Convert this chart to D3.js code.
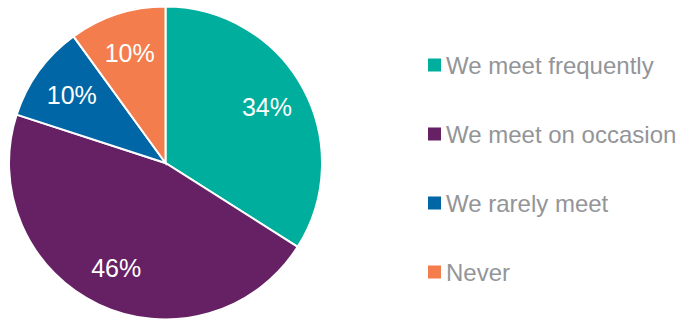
<!DOCTYPE html>
<html>
<head>
<meta charset="utf-8">
<script src="https://cdn.jsdelivr.net/npm/d3@7"></script>
<style>
  body { margin: 0; background: #fff; }
  text { font-family: "Liberation Sans", Arial, sans-serif; }
</style>
</head>
<body>
<div id="chart"></div>
<script>
var width = 679, height = 320;

var categories = ["We meet frequently", "We meet on occasion", "We rarely meet", "Never"];
var values = [34, 46, 10, 10];
var colors = ["#00ae9d", "#662165", "#0066a5", "#f47d4e"];

var svg = d3.select('#chart').append('svg')
	.attr('width', width)
	.attr('height', height);

var radius = 156.5;
var cx = 165.5, cy = 163;

var pie = d3.pie().sort(null).value(function(d) { return d; });
var arcs = pie(values);

var arc = d3.arc().innerRadius(0).outerRadius(radius);
var labelArc = d3.arc().innerRadius(radius * 0.74).outerRadius(radius * 0.74);

var g = svg.append('g').attr('transform', 'translate(' + cx + ',' + cy + ')');

g.selectAll('path')
	.data(arcs)
	.enter().append('path')
	.attr('d', arc)
	.style('fill', function(d, i) { return colors[i]; })
	.style('stroke', '#fff')
	.style('stroke-width', 2);

g.selectAll('text.pct')
	.data(arcs)
	.enter().append('text')
	.attr('class', 'pct')
	.attr('transform', function(d) { return 'translate(' + labelArc.centroid(d) + ')'; })
	.attr('text-anchor', 'middle')
	.attr('dy', '0.36em')
	.style('font-size', '25px')
	.style('fill', '#fff')
	.text(function(d) { return d.value + '%'; });

// legend
var legendY = d3.scalePoint().domain(categories).range([65, 272]);

var legend = svg.selectAll('g.legend')
	.data(categories)
	.enter().append('g')
	.attr('class', 'legend')
	.attr('transform', function(d) { return 'translate(428,' + legendY(d) + ')'; });

legend.append('rect')
	.attr('x', 0)
	.attr('y', -6.5)
	.attr('width', 13)
	.attr('height', 13)
	.style('fill', function(d, i) { return colors[i]; });

legend.append('text')
	.attr('x', 18)
	.attr('dy', '0.36em')
	.style('font-size', '24px')
	.style('fill', '#939598')
	.text(function(d) { return d; });
</script>
</body>
</html>
